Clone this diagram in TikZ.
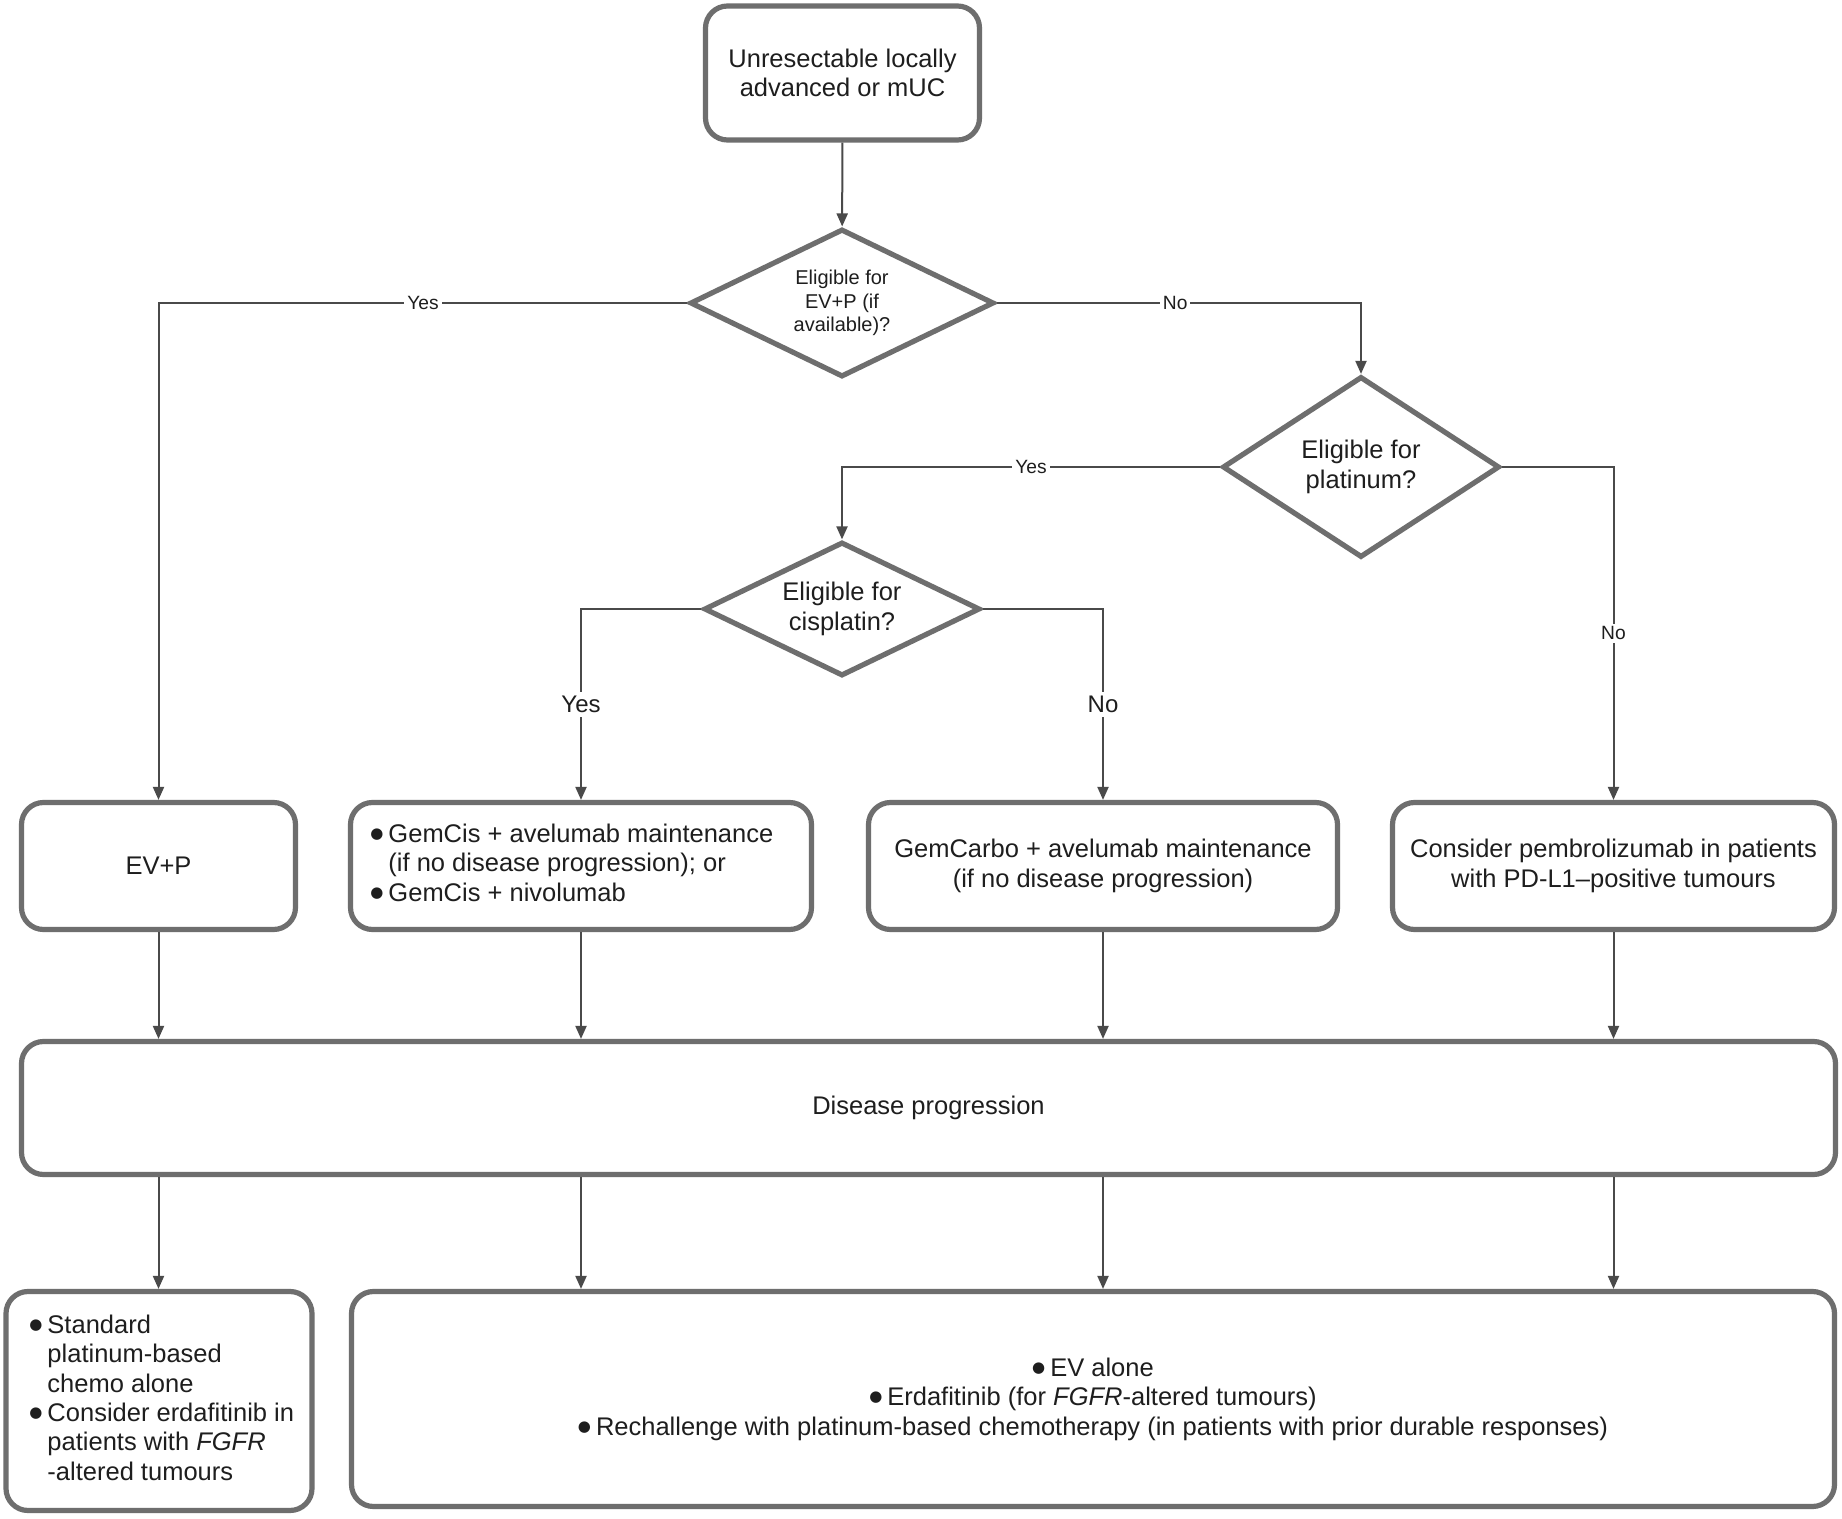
\documentclass[tikz,border=0pt]{standalone}
\usepackage{fontspec}
\setmainfont{Liberation Sans}
\newfontfamily\djv{DejaVu Sans}
\usetikzlibrary{shapes.geometric,arrows.meta}
\definecolor{boxgray}{HTML}{6E6E6E}
\definecolor{linegray}{HTML}{4A4A4A}
\definecolor{txt}{HTML}{1E1E1E}
\newcommand{\mainsz}{\fontsize{12.75pt}{14.7pt}\selectfont}
\newcommand{\labsz}{\fontsize{9.6pt}{11pt}\selectfont}
\newcommand{\dsz}{\fontsize{10pt}{11.65pt}\selectfont}
\newcommand{\biglabsz}{\fontsize{12pt}{14pt}\selectfont}
\newcommand{\blt}{\raisebox{1.9pt}{\djv\fontsize{7.5pt}{7.5pt}\selectfont ●}\kern2.5pt\relax}
\begin{document}
\begin{tikzpicture}[x=0.5pt,y=-0.5pt,
  box/.style={draw=boxgray, line width=2.6pt, rounded corners=11pt, fill=white,
              inner sep=0pt, align=center, font=\mainsz, text=txt},
  dec/.style={draw=boxgray, line width=2.6pt, diamond, aspect=2, fill=white,
              inner sep=0pt, align=center, font=\mainsz, text=txt},
  conn/.style={draw=linegray, line width=1pt, -{Triangle[length=6.5pt,width=5.5pt]}},
  lab/.style={fill=white, inner sep=1.5pt, font=\labsz, text=txt},
  biglab/.style={fill=white, inner sep=2pt, font=\biglabsz, text=txt},
  bodytext/.style={inner sep=0pt, font=\mainsz, text=txt}]

\useasboundingbox (0,0) rectangle (1842,1519);
\fill[white] (0,0) rectangle (1842,1519);

% top box
\node[box, minimum width=137pt, minimum height=67pt] (top) at (842.5,73)
  {Unresectable locally\\advanced or mUC};

% decisions
\node[dec, minimum width=152pt, minimum height=74pt, font=\dsz] (d1) at (842,303)
  {Eligible for\\EV+P (if\\available)?};
\node[dec, minimum width=138.5pt, minimum height=90.5pt] (d2) at (1361,467)
  {Eligible for\\platinum?};
\node[dec, minimum width=138pt, minimum height=67pt] (d3) at (842,609)
  {Eligible for\\cisplatin?};

% treatment row
\node[box, minimum width=137pt, minimum height=63.5pt] (b1) at (158.5,866) {EV+P};
\node[box, minimum width=230.5pt, minimum height=63.5pt] (b2) at (581,866) {};
\node[bodytext, anchor=west, align=left] (b2t) at (370,866)
  {\begin{tabular}{@{}l@{\hspace{2.5pt}}l@{}}
   \raisebox{1.9pt}{\djv\fontsize{7.5pt}{7.5pt}\selectfont ●}&GemCis + avelumab maintenance\\
    &(if no disease progression); or\\
   \raisebox{1.9pt}{\djv\fontsize{7.5pt}{7.5pt}\selectfont ●}&GemCis + nivolumab
   \end{tabular}};
\node[box, minimum width=234.5pt, minimum height=63.5pt] (b3) at (1103,866)
  {GemCarbo + avelumab maintenance\\(if no disease progression)};
\node[box, minimum width=221pt, minimum height=63.5pt] (b4) at (1613.5,866)
  {Consider pembrolizumab in patients\\with PD-L1–positive tumours};

% disease progression
\node[box, minimum width=907pt, minimum height=66.5pt] (dp) at (928.5,1108)
  {Disease progression};

% bottom row
\node[box, minimum width=153pt, minimum height=109.5pt] (bl) at (159,1401) {};
\node[bodytext, anchor=west, align=left] (blt) at (29,1401)
  {\begin{tabular}{@{}l@{\hspace{2.5pt}}l@{}}
   \raisebox{1.9pt}{\djv\fontsize{7.5pt}{7.5pt}\selectfont ●}&Standard\\
    &platinum-based\\
    &chemo alone\\
   \raisebox{1.9pt}{\djv\fontsize{7.5pt}{7.5pt}\selectfont ●}&Consider erdafitinib in\\
    &patients with \textit{FGFR}\\
    &-altered tumours
   \end{tabular}};
\node[box, minimum width=741.5pt, minimum height=107.5pt] (br) at (1093,1399)
  {\blt EV alone\\
   \blt Erdafitinib (for \textit{FGFR}-altered tumours)\\
   \blt Rechallenge with platinum-based chemotherapy (in patients with prior durable responses)};

% connectors
\draw[conn] (top) -- (d1);
\draw[conn] (d1.west) -| node[lab, pos=0.25] {Yes} (b1.north);
\draw[conn] (d1.east) -| node[lab, pos=0.245] {No} (d2.north);
\draw[conn] (d2.west) -| node[lab, pos=0.25] {Yes} (d3.north);
\draw[conn] (d2.east) -| node[lab, pos=0.75] {No} (b4.north);
\draw[conn] (d3.west) -| node[biglab, pos=0.75] {Yes} (b2.north);
\draw[conn] (d3.east) -| node[biglab, pos=0.75] {No} (b3.north);

\foreach \n in {b1,b2,b3,b4}
  \draw[conn] (\n.south) -- (\n.south |- dp.north);

\draw[conn] (b1.south |- dp.south) -- (b1.south |- bl.north);
\draw[conn] (b2.south |- dp.south) -- (b2.south |- br.north);
\draw[conn] (b3.south |- dp.south) -- (b3.south |- br.north);
\draw[conn] (b4.south |- dp.south) -- (b4.south |- br.north);
\end{tikzpicture}
\end{document}
